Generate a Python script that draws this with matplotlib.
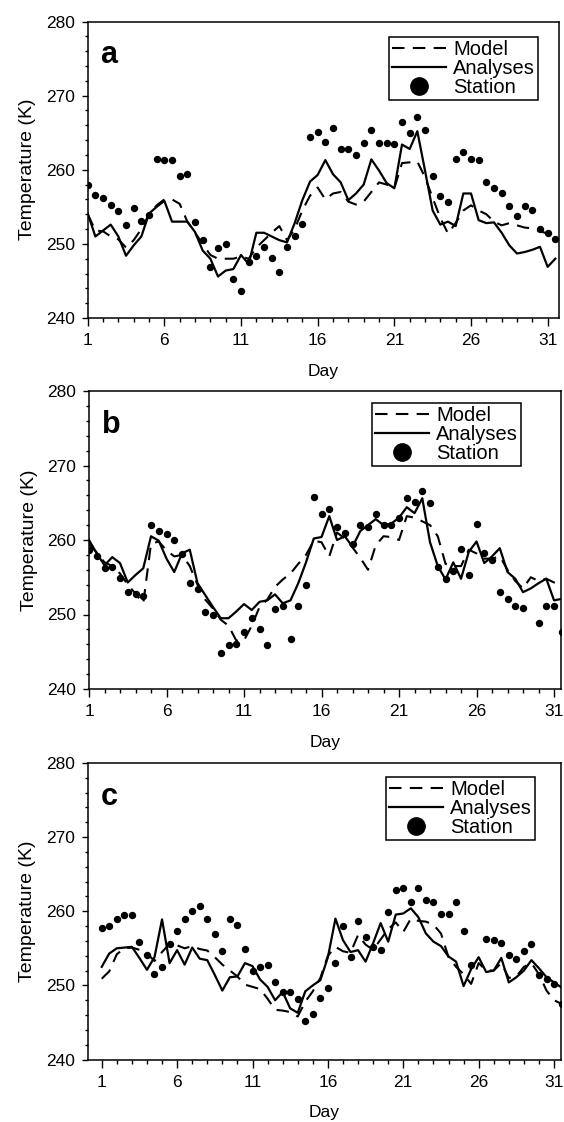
import numpy as np
import matplotlib
matplotlib.use("Agg")
import matplotlib.pyplot as plt
from matplotlib.ticker import MultipleLocator, FixedLocator

plt.rcParams['font.family'] = ['Liberation Sans', 'DejaVu Sans']

# twice-daily samples, day 1 to day 31.5
days = np.arange(1, 32, 0.5)

# panel a
model_a = [254.0, 251.8, 251.7, 251.0, 250.6, 249.5, 250.5, 252.0, 254.0, 255.2,
           256.0, 256.0, 255.4, 253.0, 251.5, 250.0, 248.5, 248.0, 248.0, 248.0,
           248.3, 248.0, 249.5, 250.5, 251.5, 252.4, 250.5, 252.0, 254.5, 256.5,
           257.6, 256.0, 256.8, 257.0, 255.7, 255.3, 255.7, 257.0, 258.3, 258.0,
           257.5, 260.9, 261.0, 261.1, 259.0, 256.2, 253.5, 251.4, 252.8, 254.5,
           255.2, 254.5, 254.0, 253.0, 252.5, 252.8, 252.5, 252.2, 252.1, 251.7,
           251.4, 250.5]
anal_a = [254.1, 251.0, 251.8, 252.6, 251.0, 248.4, 249.8, 251.0, 254.1, 255.0,
          255.8, 253.0, 253.0, 253.0, 251.6, 249.1, 248.0, 245.6, 246.4, 246.6,
          248.5, 247.3, 251.5, 251.5, 251.0, 250.5, 250.2, 252.8, 255.9, 258.4,
          259.3, 261.3, 259.4, 258.3, 255.9, 256.8, 258.0, 261.4, 259.9, 258.2,
          257.5, 263.4, 262.8, 265.2, 259.9, 254.5, 252.6, 253.0, 252.4, 256.8,
          256.8, 253.2, 252.8, 252.9, 251.5, 249.8, 248.7, 248.9, 249.2, 249.6,
          246.9, 248.0]
stat_a = [257.9, 256.6, 256.2, 255.2, 254.4, 252.6, 254.8, 253.1, 253.9, 261.4,
          261.35, 261.3, 259.1, 259.4, 253.0, 250.5, 246.9, 249.5, 250.0, 245.2,
          243.6, 247.6, 248.3, 249.6, 248.1, 246.2, 249.6, 251.0, 252.7, 264.4,
          265.1, 263.7, 265.6, 262.8, 262.8, 262.0, 263.6, 265.4, 263.6, 263.6,
          263.5, 266.5, 265.0, 267.1, 265.3, 259.2, 256.4, 255.6, 261.5, 262.4,
          261.5, 261.3, 258.3, 257.6, 256.9, 255.1, 253.7, 255.1, 254.6, 252.0,
          251.4, 250.6]

# panel b
model_b = [259.5, 258.3, 257.0, 256.5, 255.5, 254.0, 252.8, 251.5, 259.5, 259.8,
           258.6, 257.8, 258.0, 256.5, 254.0, 252.0, 250.8, 249.3, 248.5, 246.5,
           246.5, 248.5, 251.0, 252.0, 253.7, 254.7, 255.5, 256.8, 258.0, 259.9,
           259.7, 257.8, 261.0, 260.2, 259.0, 257.6, 256.0, 259.3, 260.5, 260.4,
           260.0, 263.2, 263.0, 262.5, 262.0, 260.5, 256.8, 256.5, 256.5, 258.7,
           258.2, 257.5, 257.5, 257.8, 256.0, 254.5, 253.5, 255.0, 254.5, 254.8,
           254.3, 254.2]
anal_b = [260.0, 258.2, 256.6, 257.7, 256.9, 254.3, 255.3, 256.2, 260.5, 259.9,
          257.5, 255.7, 258.2, 258.7, 254.2, 252.6, 251.0, 249.5, 249.5, 250.4,
          251.4, 250.6, 251.7, 251.9, 252.7, 251.5, 251.9, 254.2, 257.0, 260.2,
          260.4, 263.2, 260.0, 260.5, 259.1, 261.2, 262.0, 262.8, 262.0, 262.2,
          263.0, 264.4, 263.6, 265.6, 259.7, 256.5, 254.7, 257.0, 254.8, 258.4,
          259.8, 256.9, 257.8, 258.9, 255.7, 254.8, 253.0, 253.5, 254.2, 254.8,
          251.9, 252.1]
stat_b = [258.7, 257.8, 256.3, 256.4, 254.9, 253.0, 252.8, 252.5, 262.0, 261.2,
          260.8, 260.0, 258.1, 254.2, 253.4, 250.4, 250.0, 244.8, 245.9, 246.0,
          247.7, 249.5, 248.0, 245.9, 250.7, 251.1, 246.7, 251.1, 254.0, 265.8,
          263.45, 264.2, 261.8, 261.0, 259.4, 262.0, 261.8, 263.5, 262.0, 262.0,
          263.0, 265.7, 265.1, 266.6, 264.9, 256.4, 254.8, 255.8, 258.8, 255.3,
          262.2, 258.2, 257.3, 253.0, 252.1, 251.1, 250.9, np.nan, 248.8, 251.1,
          251.2, 247.6]

# panel c
model_c = [250.9, 251.9, 254.2, 255.0, 255.1, 254.8, 254.3, 253.3, 254.5, 255.6,
           255.4, 255.0, 255.3, 254.9, 254.7, 253.8, 252.8, 252.0, 251.2, 250.1,
           249.8, 249.5, 248.2, 246.7, 246.6, 246.4, 245.8, 247.8, 249.2, 251.0,
           254.0, 255.2, 254.6, 254.4, 256.8, 255.5, 254.8, 256.2, 257.6, 258.5,
           257.2, 259.0, 258.7, 258.6, 258.2, 257.0, 253.8, 252.5, 251.5, 250.2,
           253.0, 252.0, 252.0, 253.0, 251.0, 251.2, 252.5, 253.0, 251.5, 249.3,
           248.0, 247.5]
anal_c = [252.5, 254.3, 255.0, 255.1, 255.2, 253.7, 252.1, 253.8, 258.9, 253.0,
          254.75, 252.8, 255.1, 253.6, 253.4, 251.4, 249.3, 251.1, 251.2, 253.0,
          252.6, 250.8, 249.8, 248.0, 249.1, 246.9, 246.3, 249.2, 250.0, 250.7,
          253.8, 259.0, 256.1, 254.5, 254.75, 253.2, 255.7, 258.4, 255.9, 259.55,
          259.7, 260.4, 259.2, 257.0, 255.9, 255.3, 253.9, 253.2, 249.9, 252.2,
          253.8, 251.8, 252.0, 253.7, 250.4, 251.1, 252.0, 253.4, 252.3, 251.1,
          250.4, 249.7]
stat_c = [257.7, 258.0, 259.0, 259.55, 259.55, 255.9, 254.1, 251.5, 252.5, 255.6,
          257.3, 259.0, 260.1, 260.7, 259.0, 256.9, 254.6, 258.9, 258.1, 254.9,
          252.0, 252.5, 252.8, 250.4, 249.1, 249.1, 248.1, 245.2, 246.2, 248.3,
          249.7, 253.0, 258.0, 253.8, 258.65, 256.5, 255.2, 254.8, 259.9, 262.9,
          263.2, 261.3, 263.2, 261.5, 261.2, 259.6, 259.6, 261.2, 257.4, 252.7,
          np.nan, 256.2, 256.1, 255.7, 254.1, 253.6, 254.6, 255.6, 251.35, 250.9,
          250.2, 247.5]

letters = ['a', 'b', 'c']
day_ticks = [1, 6, 11, 16, 21, 26, 31]

W, H = 564, 1122
fig = plt.figure(figsize=(W / 100, H / 100), dpi=100)

# axes boxes in pixels: left, top, right, bottom
boxes = [(87.7, 21.5, 559.0, 318.0),
         (89.0, 391.0, 560.7, 689.0),
         (87.7, 763.0, 560.7, 1059.5)]
xlims = [(1, 31.74), (1, 31.43), (0.07, 31.44)]
legend_pos = [(389, 37), (372, 403), (386, 777)]

panels = [(model_a, anal_a, stat_a), (model_b, anal_b, stat_b), (model_c, anal_c, stat_c)]

for i, (model, anal, stat) in enumerate(panels):
    l, t, r, b = boxes[i]
    ax = fig.add_axes([l / W, 1 - b / H, (r - l) / W, (b - t) / H])
    ax.plot(days, model, color='black', lw=1.5, linestyle=(0, (6, 4)), label='Model')
    ax.plot(days, anal, color='black', lw=1.6, label='Analyses')
    ax.plot(days, stat, 'o', color='black', ms=4.3, label='Station')
    ax.set_xlim(*xlims[i])
    ax.set_ylim(240, 280)
    ax.xaxis.set_major_locator(FixedLocator(day_ticks))
    ax.xaxis.set_minor_locator(MultipleLocator(1))
    ax.yaxis.set_major_locator(MultipleLocator(10))
    ax.yaxis.set_minor_locator(MultipleLocator(2))
    ax.tick_params(axis='x', which='major', length=6, width=1.0, labelsize=12.5, pad=5)
    ax.tick_params(axis='x', which='minor', length=3, width=1.0)
    ax.tick_params(axis='y', which='major', length=4, width=1.0, labelsize=12.5, pad=5)
    ax.tick_params(axis='y', which='minor', length=2.5, width=1.0)
    for s in ax.spines.values():
        s.set_linewidth(1.1)
    ax.set_xlabel('Day', fontsize=12.5, labelpad=11)
    ax.set_ylabel('Temperature (K)', fontsize=14, labelpad=7)
    ax.text(0.027, 0.86, letters[i], transform=ax.transAxes, fontsize=22,
            fontweight='bold', ha='left', va='baseline')
    lx, ly = legend_pos[i]
    leg = ax.legend(loc='upper left', bbox_to_anchor=(lx / W, 1 - ly / H),
                    bbox_transform=fig.transFigure, borderaxespad=0,
                    fontsize=14.5, handlelength=2.7, handletextpad=0.35,
                    labelspacing=0.0, borderpad=0.15, markerscale=2.9,
                    fancybox=False, framealpha=1)
    leg.get_frame().set_edgecolor('black')
    leg.get_frame().set_linewidth(1.1)

fig.savefig('out.png', dpi=100)
